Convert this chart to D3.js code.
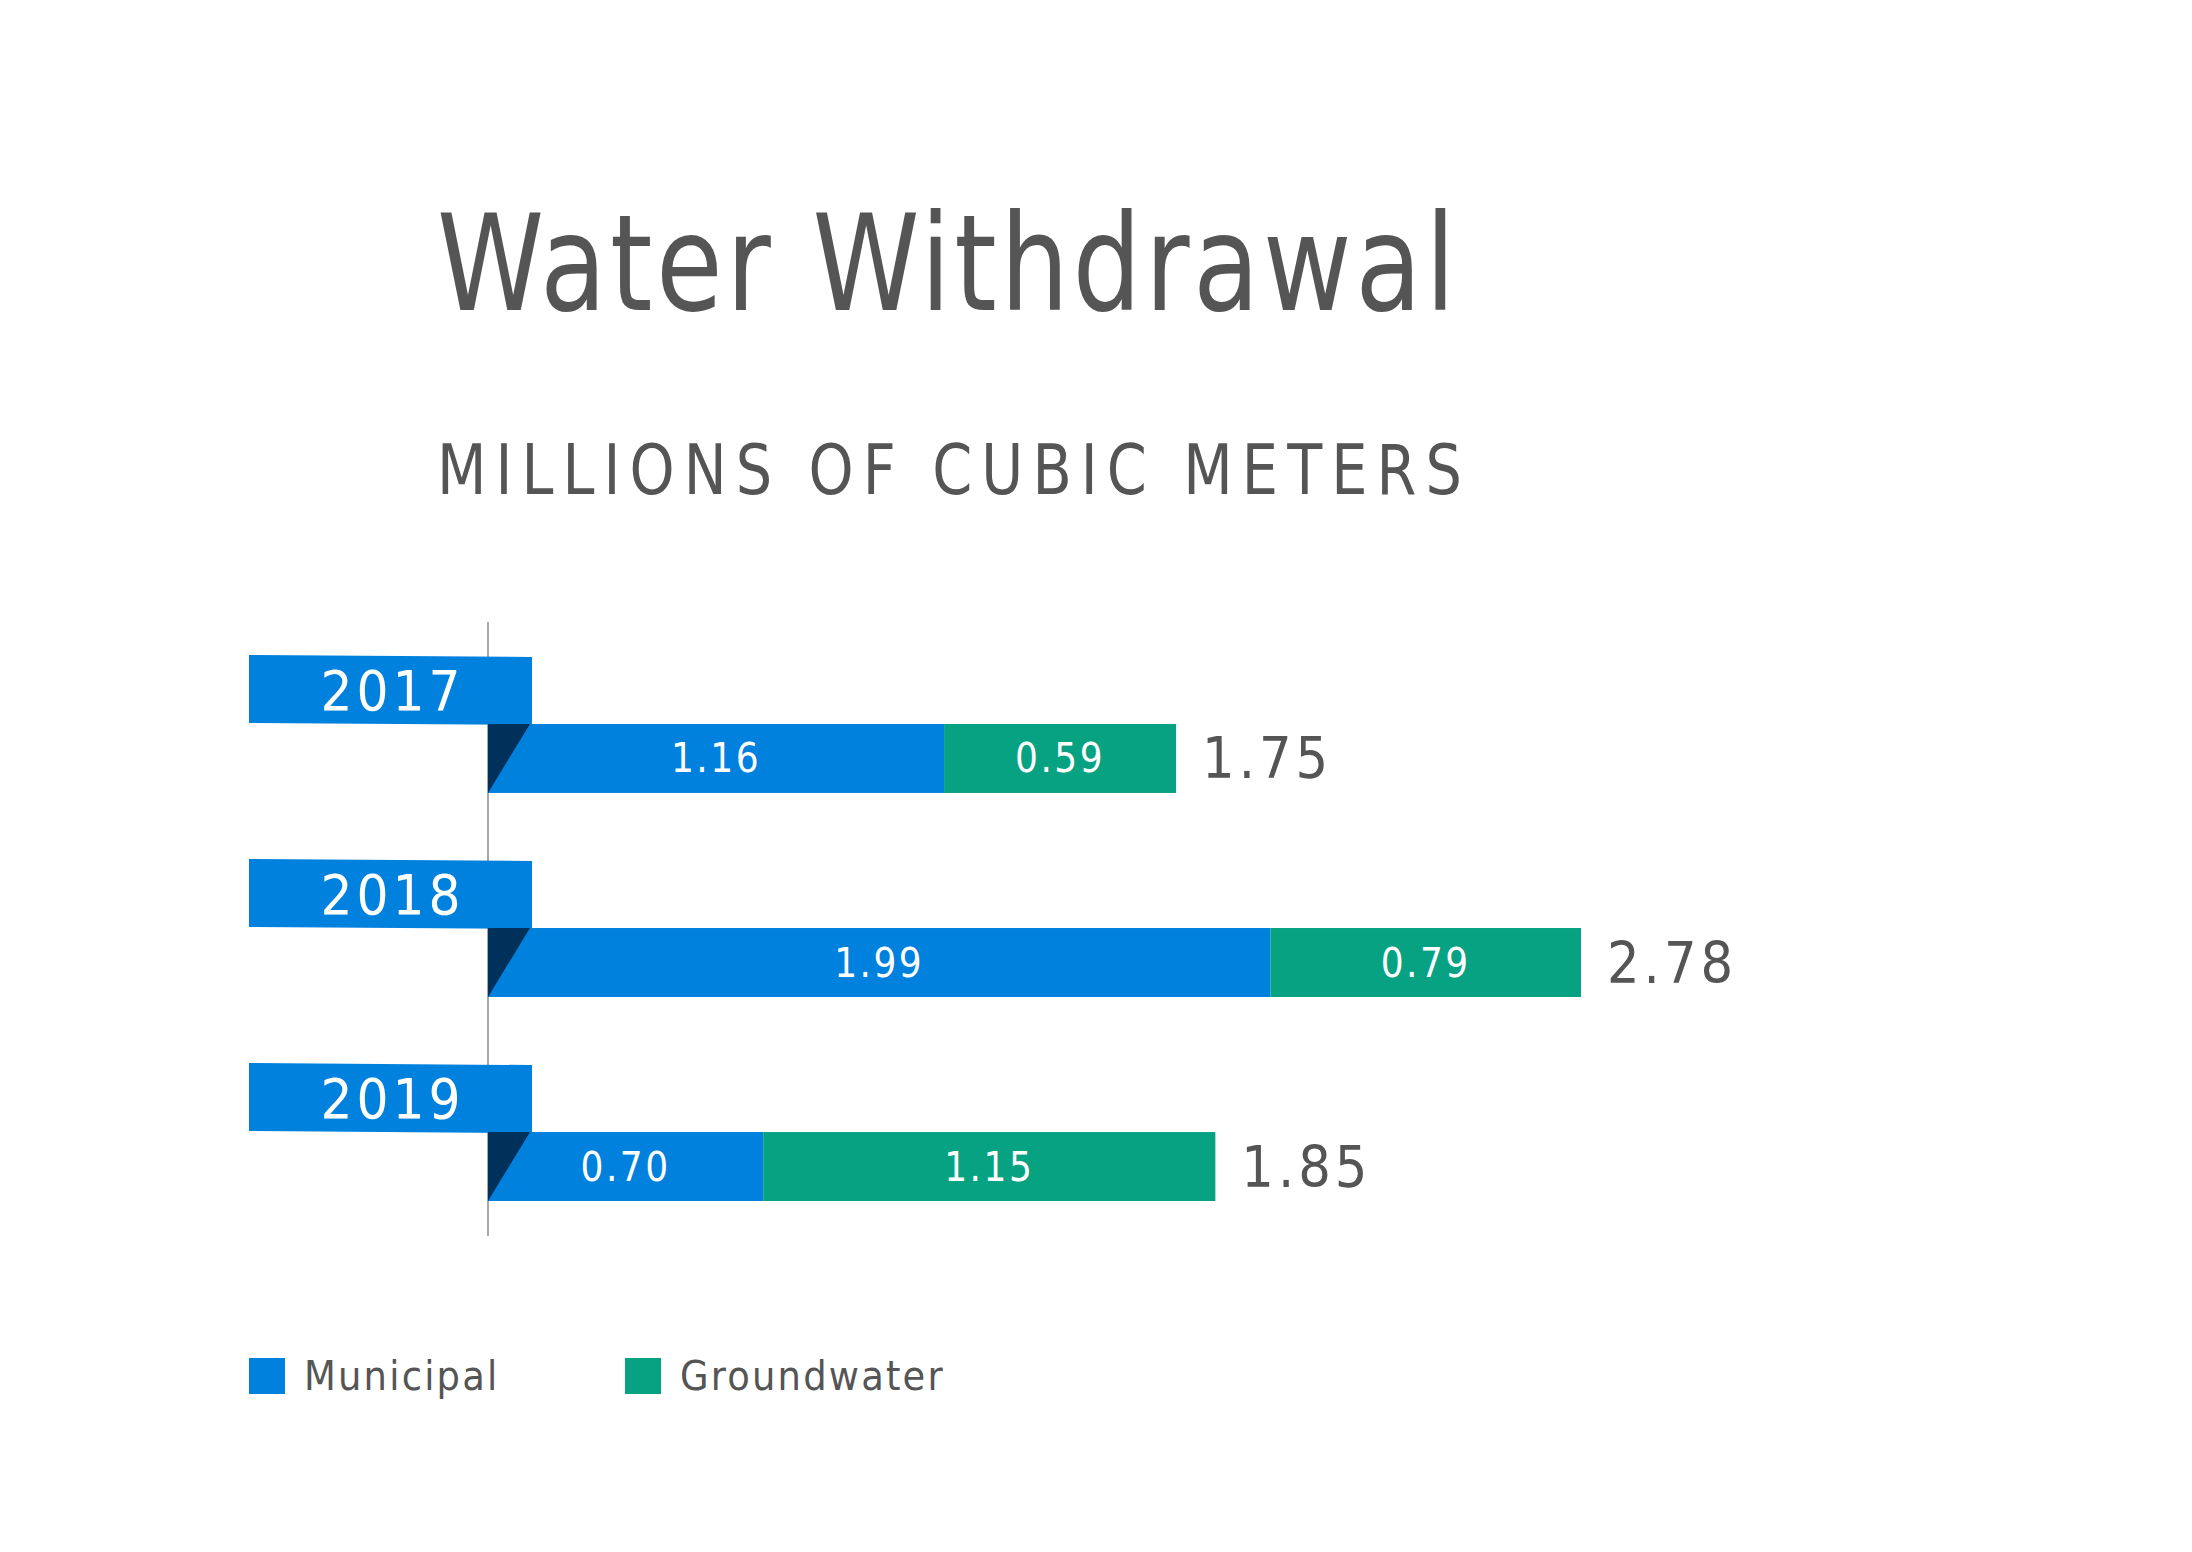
<!DOCTYPE html>
<html>
<head>
<meta charset="utf-8">
<script src="https://cdn.jsdelivr.net/npm/d3@7"></script>
<style>
  html, body { margin: 0; padding: 0; background: #ffffff; }
  svg { display: block; }
  text { font-family: "DejaVu Sans Condensed", "DejaVu Sans", "Open Sans", sans-serif; font-stretch: condensed; }
</style>
</head>
<body>
<svg id="chart" width="2192" height="1552"></svg>
<script>
// ---- data ----
const years = ["2017", "2018", "2019"];
const municipal = [1.16, 1.99, 0.70];
const groundwater = [0.59, 0.79, 1.15];
const totals = [1.75, 2.78, 1.85];
const seriesNames = ["Municipal", "Groundwater"];
const titleText = "Water Withdrawal";
const subtitleText = "MILLIONS OF CUBIC METERS";

// ---- styles ----
const colBlue = "#0081de";
const colGreen = "#07a282";
const colNavy = "#00315a";
const colText = "#555555";

const svg = d3.select("#chart");
svg.append("rect").attr("width", 2192).attr("height", 1552).attr("fill", "#fff");

const x = d3.scaleLinear().domain([0, 2.78]).range([488, 1581]);
const y = d3.scaleBand().domain(years).range([724, 1201]).paddingInner(0.662).paddingOuter(0);
const bh = y.bandwidth();

// title
svg.append("text").attr("x", 437).attr("y", 310)
  .attr("font-size", 134).attr("fill", colText)
  .attr("letter-spacing", 4)
  .attr("textLength", 1022).attr("lengthAdjust", "spacingAndGlyphs")
  .text(titleText);
svg.append("text").attr("x", 437).attr("y", 494)
  .attr("font-size", 70).attr("fill", colText)
  .attr("letter-spacing", 10)
  .attr("textLength", 1034).attr("lengthAdjust", "spacingAndGlyphs")
  .text(subtitleText);

// axis line
svg.append("line").attr("x1", x(0)).attr("x2", x(0)).attr("y1", 622).attr("y2", 1236)
  .attr("stroke", "#8a8a8a").attr("stroke-width", 1.5);

const rows = years.map((yr, i) => ({ yr, m: municipal[i], g: groundwater[i], t: totals[i] }));
const g = svg.append("g");

rows.forEach(d => {
  const top = y(d.yr);
  const bot = top + bh;
  const x0 = x(0);
  // year label box (slightly skewed)
  const bl = 249, br = 532;
  g.append("polygon")
    .attr("points", [[bl, top - 68 - 1], [br, top - 68 + 1], [br, top + 1], [bl, top - 1]].map(p => p.join(",")).join(" "))
    .attr("fill", colBlue);
  g.append("text").attr("x", (bl + br) / 2 + 2).attr("y", top - 34)
    .attr("text-anchor", "middle").attr("dominant-baseline", "central")
    .attr("font-size", 56).attr("letter-spacing", 4).attr("fill", "#fff")
    .text(d.yr);
  // municipal
  g.append("rect").attr("x", x0).attr("y", top).attr("width", x(d.m) - x0).attr("height", bh).attr("fill", colBlue);
  // groundwater
  g.append("rect").attr("x", x(d.m)).attr("y", top).attr("width", x(d.m + d.g) - x(d.m)).attr("height", bh).attr("fill", colGreen);
  // navy fold triangle
  g.append("polygon")
    .attr("points", [[x0, top], [x0 + 42, top], [x0, bot]].map(p => p.join(",")).join(" "))
    .attr("fill", colNavy);
  // inner labels
  g.append("text").attr("x", (x0 + x(d.m)) / 2).attr("y", top + bh / 2)
    .attr("text-anchor", "middle").attr("dominant-baseline", "central")
    .attr("font-size", 40).attr("letter-spacing", 2.5).attr("fill", "#fff")
    .text(d.m.toFixed(2));
  g.append("text").attr("x", (x(d.m) + x(d.m + d.g)) / 2).attr("y", top + bh / 2)
    .attr("text-anchor", "middle").attr("dominant-baseline", "central")
    .attr("font-size", 40).attr("letter-spacing", 2.5).attr("fill", "#fff")
    .text(d.g.toFixed(2));
  // total
  g.append("text").attr("x", x(d.t) + 26).attr("y", top + bh / 2)
    .attr("dominant-baseline", "central")
    .attr("font-size", 57).attr("letter-spacing", 4).attr("fill", colText)
    .text(d.t.toFixed(2));
});

// legend
const legend = svg.append("g");
const legX = [249, 625];
const legCols = [colBlue, colGreen];
seriesNames.forEach((name, i) => {
  legend.append("rect").attr("x", legX[i]).attr("y", 1358).attr("width", 36).attr("height", 36).attr("fill", legCols[i]);
  legend.append("text").attr("x", legX[i] + 55).attr("y", 1390)
    .attr("font-size", 41).attr("letter-spacing", 2.2).attr("fill", colText)
    .text(name);
});
</script>
</body>
</html>
